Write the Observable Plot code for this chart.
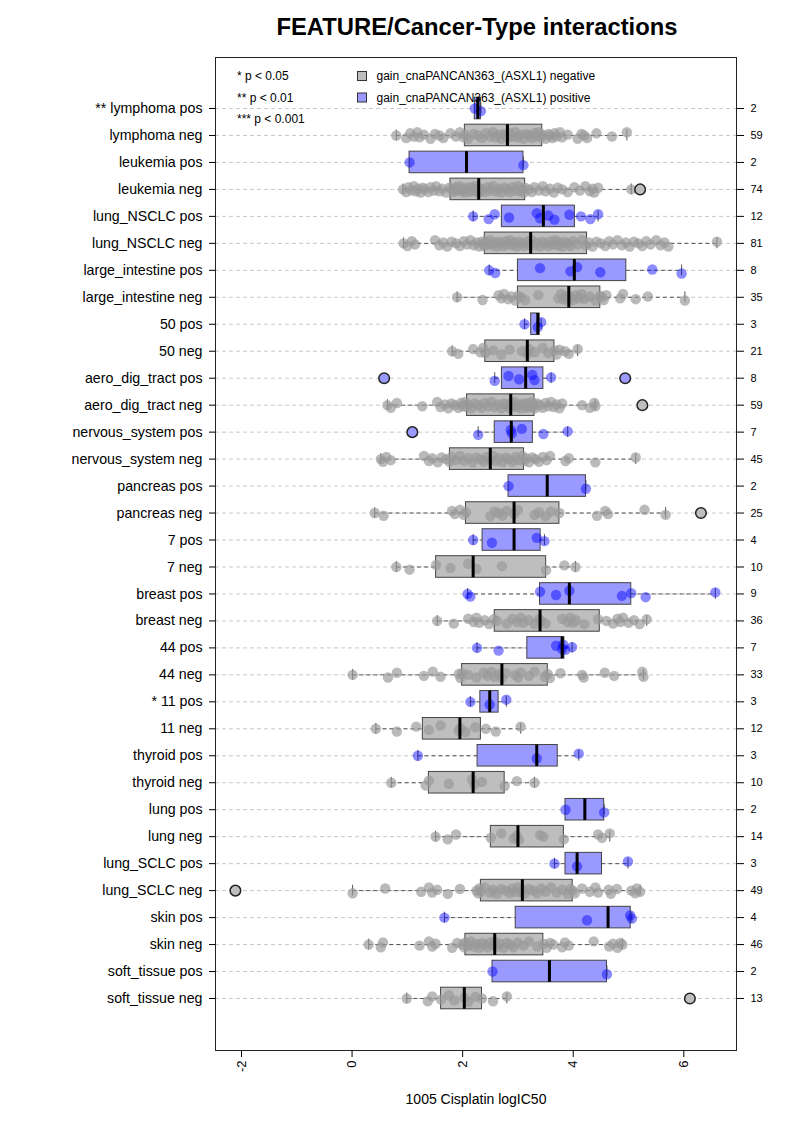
<!DOCTYPE html>
<html><head><meta charset="utf-8">
<script src="https://cdn.jsdelivr.net/npm/d3@7"></script>
<script src="https://cdn.jsdelivr.net/npm/@observablehq/plot@0.6"></script>
<style>
body{margin:0;background:#fff;}
#wrap{width:793px;height:1122px;}
</style></head><body><div id="wrap"></div>
<script>
// Row labels (top to bottom)
const labels = ["** lymphoma pos","lymphoma neg","leukemia pos","leukemia neg","lung_NSCLC pos","lung_NSCLC neg","large_intestine pos","large_intestine neg","50 pos","50 neg","aero_dig_tract pos","aero_dig_tract neg","nervous_system pos","nervous_system neg","pancreas pos","pancreas neg","7 pos","7 neg","breast pos","breast neg","44 pos","44 neg","* 11 pos","11 neg","thyroid pos","thyroid neg","lung pos","lung neg","lung_SCLC pos","lung_SCLC neg","skin pos","skin neg","soft_tissue pos","soft_tissue neg"];
// Sample counts (right axis)
const counts = [2,59,2,74,12,81,8,35,3,21,8,59,7,45,2,25,4,10,9,36,7,33,3,12,3,10,2,14,3,49,4,46,2,13];
// Box statistics
const whiskerLow  = [2.22,0.80,1.04,0.92,2.19,0.93,2.48,1.90,3.12,1.81,2.58,0.64,2.28,0.52,2.83,0.41,2.19,0.80,2.09,1.54,2.26,0.01,2.14,0.43,1.19,0.71,3.86,1.51,3.66,0.01,1.67,0.30,2.54,0.99];
const hingeLow    = [2.22,2.04,1.04,1.78,2.71,2.40,3.00,3.00,3.24,2.41,2.71,2.08,2.58,1.77,2.83,2.06,2.36,1.52,3.40,2.58,3.17,1.99,2.32,1.28,2.27,1.39,3.86,2.51,3.86,2.33,2.96,2.05,2.54,1.61];
const medians     = [2.275,2.81,2.07,2.29,3.46,3.23,4.02,3.92,3.36,3.17,3.14,2.87,2.88,2.50,3.53,2.93,2.93,2.19,3.93,3.40,3.80,2.71,2.49,1.95,3.34,2.19,4.21,3.00,4.07,3.08,4.63,2.58,3.57,2.03];
const hingeHigh   = [2.33,3.44,3.10,3.13,4.03,4.25,4.96,4.49,3.39,3.66,3.46,3.30,3.27,3.11,4.23,3.75,3.41,3.51,5.05,4.48,3.84,3.54,2.65,2.33,3.72,2.76,4.56,3.83,4.52,3.99,5.04,3.46,4.61,2.35];
const whiskerHigh = [2.33,4.97,3.10,5.05,4.45,6.60,5.96,6.02,3.42,4.08,3.60,4.40,3.90,5.13,4.23,5.67,3.48,4.04,6.57,5.33,3.98,5.27,2.79,3.05,4.10,3.30,4.56,4.66,4.99,5.21,5.06,4.89,4.61,2.80];
// Observed values per row
const values = [
 [2.22,2.33],
 [0.80,0.98,1.05,1.12,1.18,1.22,1.30,1.42,1.50,1.58,1.65,1.78,1.88,1.95,2.02,2.04,2.10,2.20,2.28,2.35,2.42,2.50,2.55,2.60,2.66,2.70,2.75,2.78,2.81,2.85,2.90,2.95,3.00,3.05,3.10,3.15,3.20,3.25,3.30,3.34,3.38,3.42,3.44,3.50,3.55,3.58,3.62,3.66,3.70,3.76,3.80,3.90,4.08,4.15,4.20,4.25,4.42,4.70,4.97],
 [1.04,3.10],
 [0.92,0.98,1.02,1.08,1.12,1.16,1.20,1.24,1.28,1.32,1.38,1.42,1.48,1.52,1.58,1.63,1.70,1.76,1.80,1.84,1.88,1.90,1.94,1.98,2.00,2.04,2.07,2.10,2.13,2.16,2.19,2.22,2.25,2.27,2.29,2.30,2.35,2.40,2.45,2.50,2.55,2.60,2.65,2.70,2.75,2.80,2.85,2.90,2.95,3.00,3.04,3.08,3.11,3.13,3.20,3.25,3.30,3.38,3.45,3.50,3.58,3.65,3.72,3.80,3.90,4.02,4.12,4.22,4.30,4.35,4.38,4.45,5.05,5.21],
 [2.19,2.47,2.58,2.84,3.34,3.40,3.55,3.66,3.93,4.14,4.31,4.45],
 [0.93,1.00,1.08,1.14,1.50,1.58,1.65,1.72,1.80,1.88,1.95,2.02,2.08,2.14,2.20,2.25,2.30,2.34,2.37,2.39,2.42,2.46,2.50,2.54,2.58,2.62,2.66,2.70,2.74,2.78,2.82,2.86,2.90,2.94,2.98,3.02,3.08,3.12,3.17,3.21,3.25,3.30,3.35,3.40,3.45,3.50,3.55,3.60,3.64,3.68,3.72,3.76,3.80,3.85,3.90,3.95,4.00,4.08,4.16,4.23,4.28,4.35,4.42,4.50,4.58,4.65,4.72,4.80,4.88,4.95,5.02,5.10,5.18,5.25,5.32,5.40,5.50,5.58,5.65,5.72,6.60],
 [2.48,2.59,3.40,3.95,4.07,4.49,5.43,5.96],
 [1.90,2.36,2.65,2.70,2.75,2.82,2.88,2.95,3.00,3.05,3.13,3.37,3.73,3.78,3.82,3.86,3.90,3.92,3.96,4.00,4.05,4.10,4.15,4.20,4.30,4.40,4.49,4.51,4.55,4.60,4.85,4.90,5.13,5.35,6.02],
 [3.12,3.36,3.42],
 [1.81,1.92,2.19,2.32,2.37,2.41,2.55,2.70,2.85,3.07,3.17,3.20,3.30,3.45,3.55,3.66,3.70,3.75,3.85,3.92,4.08],
 [0.58,2.58,2.83,3.02,3.26,3.30,3.60,4.94],
 [0.64,0.70,0.81,1.27,1.54,1.60,1.68,1.74,1.80,1.86,1.92,1.97,2.00,2.04,2.07,2.10,2.16,2.22,2.28,2.34,2.40,2.46,2.52,2.58,2.64,2.70,2.75,2.80,2.84,2.87,2.90,2.94,2.98,3.02,3.06,3.10,3.13,3.16,3.19,3.22,3.25,3.27,3.29,3.31,3.35,3.40,3.45,3.50,3.55,3.60,3.65,3.70,3.75,3.80,4.16,4.30,4.38,4.40,5.25],
 [1.09,2.28,2.87,2.89,3.07,3.46,3.90],
 [0.52,0.56,0.62,0.70,1.30,1.39,1.45,1.55,1.62,1.70,1.76,1.80,1.88,1.95,2.02,2.10,2.18,2.25,2.32,2.38,2.44,2.50,2.55,2.60,2.66,2.72,2.78,2.84,2.90,2.96,3.02,3.08,3.11,3.15,3.20,3.26,3.32,3.38,3.45,3.52,3.58,3.86,3.92,4.40,5.13],
 [2.83,4.23],
 [0.41,0.57,1.81,1.86,1.95,2.02,2.06,2.50,2.58,2.65,2.72,2.80,2.93,3.00,3.30,3.38,3.50,3.60,3.75,4.43,4.58,4.63,5.29,5.67,6.31],
 [2.19,2.53,3.34,3.48],
 [0.80,1.04,1.52,1.78,2.10,2.25,2.71,3.51,3.84,4.04],
 [2.09,2.14,3.40,3.69,3.93,4.88,5.05,5.31,6.57],
 [1.54,1.84,2.10,2.20,2.25,2.30,2.40,2.48,2.56,2.62,2.80,2.90,2.98,3.05,3.10,3.20,3.30,3.38,3.42,3.50,3.80,3.90,3.95,4.00,4.05,4.20,4.45,4.60,4.72,4.80,4.85,4.90,5.00,5.10,5.20,5.33],
 [2.26,2.65,3.69,3.80,3.82,3.86,3.98],
 [0.01,0.65,0.81,1.30,1.46,1.60,1.93,1.96,1.99,2.10,2.25,2.38,2.45,2.52,2.58,2.65,2.71,2.78,2.95,3.00,3.05,3.20,3.30,3.48,3.54,3.58,3.77,4.16,4.19,4.57,4.74,5.25,5.27],
 [2.14,2.49,2.79],
 [0.43,0.81,1.16,1.39,1.60,1.93,1.96,2.05,2.23,2.42,2.60,3.05],
 [1.19,3.34,4.10],
 [0.71,1.33,1.39,1.75,2.17,2.21,2.35,2.76,2.98,3.30],
 [3.86,4.56],
 [1.51,1.73,1.88,2.51,2.70,2.92,2.98,3.02,3.40,3.46,3.83,4.45,4.52,4.66],
 [3.66,4.07,4.99],
 [-2.11,0.01,0.60,1.25,1.39,1.45,1.54,1.73,1.95,2.25,2.28,2.30,2.33,2.40,2.50,2.55,2.62,2.70,2.78,2.85,2.90,2.95,3.00,3.05,3.08,3.12,3.20,3.28,3.35,3.42,3.50,3.60,3.70,3.80,3.90,3.95,3.99,4.03,4.16,4.30,4.40,4.45,4.64,4.68,4.79,5.05,5.12,5.15,5.21],
 [1.67,4.25,5.03,5.06],
 [0.30,0.52,0.56,1.22,1.39,1.45,1.51,1.81,1.90,1.99,2.03,2.05,2.10,2.15,2.20,2.25,2.30,2.35,2.40,2.45,2.50,2.55,2.58,2.62,2.68,2.74,2.80,2.86,2.92,3.00,3.10,3.20,3.35,3.46,3.52,3.58,3.64,3.80,3.85,3.92,4.37,4.65,4.72,4.80,4.85,4.89],
 [2.54,4.61],
 [0.99,1.37,1.45,1.61,1.75,1.85,2.03,2.10,2.23,2.35,2.55,2.80,6.11]
];
const xTicks = [-2,0,2,4,6];
const jitter = [0,0.1,-0.08,0.04,-0.12,0.07,-0.03,0.12,-0.06];

const rows = labels.map((label,i)=>({i,label,pos:i%2===0,lo:whiskerLow[i],q1:hingeLow[i],med:medians[i],q3:hingeHigh[i],hi:whiskerHigh[i]}));
const pts = [];
values.forEach((vs,i)=>vs.forEach((v,k)=>{
  const out = v < whiskerLow[i]-1e-9 || v > whiskerHigh[i]+1e-9;
  pts.push({i,v,pos:i%2===0,out,yj:i+jitter[k%jitter.length]});
}));
const BLUEBOX="#9999ff", GREYBOX="#bebebe";
const posRows = rows.filter(d=>d.pos), negRows = rows.filter(d=>!d.pos);

const plot = Plot.plot({
  width:793, height:1122,
  marginLeft:215, marginRight:57, marginTop:57, marginBottom:72,
  x:{domain:[-2.47,6.953]},
  y:{domain:[-1.891,34.928], reverse:true},
  style:{fontFamily:"'Liberation Sans', Arial, sans-serif", background:"white", color:"black"},
  marks:[
    Plot.ruleY(rows,{y:"i", stroke:"#c8c8c8", strokeDasharray:"4,3"}),
    Plot.ruleY(rows,{y:"i", x1:"lo", x2:"q1", stroke:"#555", strokeDasharray:"4,3"}),
    Plot.ruleY(rows,{y:"i", x1:"q3", x2:"hi", stroke:"#555", strokeDasharray:"4,3"}),
    Plot.ruleX(rows,{x:"lo", y1:d=>d.i-0.2, y2:d=>d.i+0.2, stroke:"#555"}),
    Plot.ruleX(rows,{x:"hi", y1:d=>d.i-0.2, y2:d=>d.i+0.2, stroke:"#555"}),
    Plot.rect(negRows,{x1:"q1", x2:"q3", y1:d=>d.i-0.4, y2:d=>d.i+0.4, fill:GREYBOX, stroke:"#444"}),
    Plot.rect(posRows,{x1:"q1", x2:"q3", y1:d=>d.i-0.4, y2:d=>d.i+0.4, fill:BLUEBOX, stroke:"#444"}),
    Plot.dot(pts.filter(d=>!d.out && !d.pos),{x:"v", y:"yj", r:5.2, fill:"#999", fillOpacity:0.68, stroke:null}),
    Plot.dot(pts.filter(d=>!d.out && d.pos),{x:"v", y:"yj", r:5.2, fill:"blue", fillOpacity:0.45, stroke:null}),
    Plot.ruleX(rows,{x:"med", y1:d=>d.i-0.4, y2:d=>d.i+0.4, stroke:"black", strokeWidth:3}),
    Plot.dot(pts.filter(d=>d.out && !d.pos),{x:"v", y:"i", r:5.3, fill:GREYBOX, stroke:"#222"}),
    Plot.dot(pts.filter(d=>d.out && d.pos),{x:"v", y:"i", r:5.3, fill:BLUEBOX, stroke:"#222"}),
    Plot.frame({stroke:"#222"}),
    Plot.axisY(d3.range(labels.length),{anchor:"left", tickFormat:i=>labels[i], tickSize:6, tickPadding:7, fontSize:14.2, label:null}),
    Plot.axisY(d3.range(labels.length),{anchor:"right", tickFormat:i=>String(counts[i]), tickSize:7, tickPadding:7, fontSize:11, label:null}),
    Plot.axisX(xTicks,{anchor:"bottom", tickFormat:d=>String(d), tickSize:7, tickPadding:3, tickRotate:-90, fontSize:13, label:null})
  ]
});
document.getElementById("wrap").appendChild(plot);

// Title, axis title and legend
const svg = d3.select(plot);
const ff = "'Liberation Sans', Arial, sans-serif";
svg.append("text").attr("x",477).attr("y",34.5).attr("text-anchor","middle")
  .attr("font-family",ff).attr("font-weight","bold").attr("font-size",23.8).attr("fill","black")
  .text("FEATURE/Cancer-Type interactions");
svg.append("text").attr("x",476).attr("y",1104).attr("text-anchor","middle")
  .attr("font-family",ff).attr("font-size",14).attr("fill","black")
  .text("1005 Cisplatin logIC50");
const sig = ["* p < 0.05","** p < 0.01","*** p < 0.001"];
sig.forEach((t,k)=>svg.append("text").attr("x",237).attr("y",80+k*21.5).attr("text-anchor","start")
  .attr("font-family",ff).attr("font-size",12).attr("fill","black").text(t));
const legendItems = [["gain_cnaPANCAN363_(ASXL1) negative",GREYBOX],["gain_cnaPANCAN363_(ASXL1) positive",BLUEBOX]];
legendItems.forEach(([t,c],k)=>{
  svg.append("rect").attr("x",357.5).attr("y",71.5+k*21.5).attr("width",9).attr("height",9)
    .attr("fill",c).attr("stroke","#333");
  svg.append("text").attr("x",376.5).attr("y",80+k*21.5).attr("text-anchor","start")
    .attr("font-family",ff).attr("font-size",12).attr("fill","black").text(t);
});
</script></body></html>
